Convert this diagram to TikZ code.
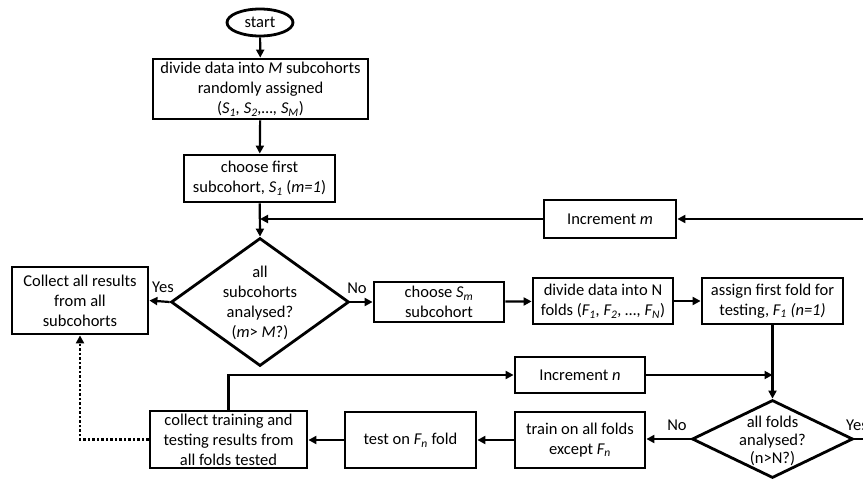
\documentclass[tikz,border=0pt]{standalone}
\usepackage{fontspec}
\setmainfont{Carlito}
\usetikzlibrary{arrows.meta,shapes.geometric}
\newcommand{\fs}{\fontsize{16.5}{20}\selectfont}
\tikzset{
  box/.style={draw, line width=2.8pt, inner sep=1pt, align=center, font=\fs},
  dia/.style={draw, diamond, line width=2.8pt, inner sep=0pt},
  diatext/.style={align=center, font=\fs, inner sep=0pt},
  lnk/.style={line width=2.2pt, -{Triangle[length=8pt,width=8pt]}},
  lbl/.style={font=\fs, inner sep=0pt},
}
\begin{document}
\begin{tikzpicture}[x=1pt,y=-1pt]
\useasboundingbox (0,0) rectangle (863,479);
\clip (0,0) rectangle (863,479);
% nodes
\node[draw, ellipse, line width=2.8pt, minimum width=66pt, minimum height=27pt, inner sep=0pt, font=\fs] (start) at (260,22.5) {start};
\node[box, minimum width=215pt, minimum height=60pt] (b1) at (260.5,89) {divide data into \textit{M} subcohorts\\randomly assigned\\(\textit{S\textsubscript{1}, S\textsubscript{2},…, S\textsubscript{M}})};
\node[box, minimum width=151pt, minimum height=47pt] (b2) at (259.5,178.5) {choose first\\subcohort, \textit{S\textsubscript{1}} (\textit{m=1})};
\node[box, minimum width=132pt, minimum height=38pt] (incm) at (610,219) {Increment \textit{m}};
\coordinate (j1) at (260,219);
\node[dia, minimum width=178pt, minimum height=128pt] (d1) at (260,302) {};
\node[diatext] (d1t) at (260,303) {all\\subcohorts\\analysed?\\(\textit{m}> \textit{M}?)};
\node[box, minimum width=136pt, minimum height=67pt] (call) at (80,300.5) {Collect all results\\from all\\subcohorts};
\node[box, minimum width=130pt, minimum height=40pt] (csm) at (439,302) {choose \textit{S\textsubscript{m}}\\subcohort};
\node[box, minimum width=140pt, minimum height=46pt] (divn) at (603,301) {divide data into N\\folds (\textit{F\textsubscript{1}, F\textsubscript{2}, …, F\textsubscript{N}})};
\node[box, minimum width=141pt, minimum height=46pt] (asg) at (772.5,301) {assign first fold for\\testing, \textit{F\textsubscript{1} (n=1)}};
\node[box, minimum width=130pt, minimum height=36pt] (incn) at (580,375) {Increment \textit{n}};
\coordinate (j2) at (772.5,375);
\node[dia, minimum width=161pt, minimum height=78pt] (d2) at (772.5,439) {};
\node[diatext, font=\fontsize{16.5}{18}\selectfont] (d2t) at (772.5,441) {all folds\\analysed?\\(n>N?)};
\node[box, minimum width=130pt, minimum height=56pt] (train) at (580,440) {train on all folds\\except \textit{F\textsubscript{n}}};
\node[box, minimum width=131pt, minimum height=56pt] (test) at (410.5,440) {test on \textit{F\textsubscript{n}} fold};
\node[box, minimum width=157pt, minimum height=57pt, inner sep=0pt] (ctr) at (228.5,439.5) {collect training and\\testing results from\\all folds tested};
\coordinate (c1) at (228.5,375);
\coordinate (c2) at (80,439.5);
\coordinate (r1) at (900,439);
\coordinate (r2) at (900,219);
% connectors
\draw[lnk] (start) -- (b1);
\draw[lnk] (b1) -- (b2);
\draw[lnk] (b2) -- (d1.north);
\draw[lnk] (incm.west) -- (j1);
\draw[lnk] (d1.west) -- (call.east);
\draw[lnk] (d1.east) -- (csm.west);
\draw[lnk] (csm) -- (divn);
\draw[lnk] (divn) -- (asg);
\draw[lnk] (asg.south) -- (d2.north);
\draw[lnk] (incn.east) -- (j2);
\draw[lnk] (ctr.north) -- (c1) -- (incn.west);
\draw[lnk] (d2.west) -- (d2.west -| train.east);
\draw[lnk] (train.west) -- (train.west -| test.east);
\draw[lnk] (test.west) -- (test.west -| ctr.east);
\draw[lnk, dash pattern=on 2.5pt off 2pt] (ctr.west) -- (c2) -- (call.south);
\draw[lnk] (d2.east) -- (r1) -- (r2) -- (incm.east);
% labels
\node[lbl] (ly1) at (163,287) {Yes};
\node[lbl] (ln1) at (357,288) {No};
\node[lbl] (ln2) at (677,425) {No};
\node[lbl] (ly2) at (857,425) {Yes};
\end{tikzpicture}
\end{document}
